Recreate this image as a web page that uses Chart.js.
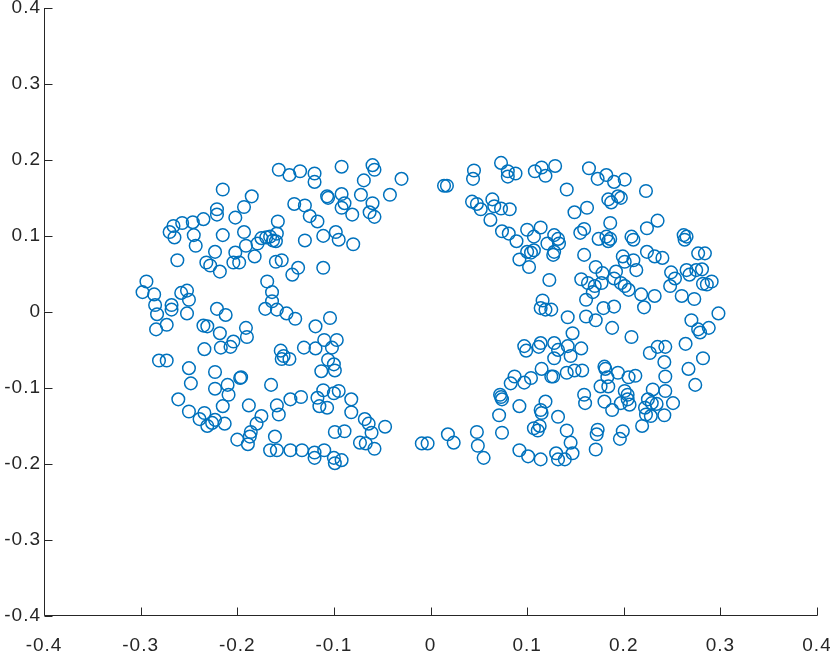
<!DOCTYPE html>
<html>
<head>
<meta charset="utf-8">
<script src="https://cdn.jsdelivr.net/npm/chart.js@4.4.1/dist/chart.umd.min.js"></script>
<style>
  html, body { margin: 0; padding: 0; background: #fff; }
  #wrap { width: 830px; height: 653px; }
</style>
</head>
<body>
<div id="wrap"><canvas id="c" width="830" height="653"></canvas></div>
<script>
// left half of the ring (x < 0)
const leftX = [
  -0.157,-0.215,-0.185,-0.193,-0.221,-0.221,-0.202,-0.235,-0.246,-0.257,
  -0.266,-0.270,-0.265,-0.245,-0.215,-0.193,-0.158,-0.243,-0.262,-0.223,
  -0.202,-0.191,-0.182,-0.179,-0.175,-0.170,-0.166,-0.163,-0.159,-0.160,
  -0.232,-0.228,-0.218,-0.204,-0.198,-0.160,-0.154,-0.294,-0.298,-0.286,
  -0.285,-0.268,-0.268,-0.258,-0.252,-0.250,-0.252,-0.221,-0.212,-0.169,
  -0.164,-0.164,-0.171,-0.159,-0.283,
  -0.146,-0.135,-0.120,-0.120,-0.092,-0.060,-0.058,-0.030,-0.069,-0.141,
  -0.130,-0.125,-0.117,-0.107,-0.106,-0.092,-0.089,-0.092,-0.081,-0.072,
  -0.060,-0.063,-0.058,-0.042,-0.130,-0.111,-0.098,-0.095,-0.080,-0.137,
  -0.143,-0.111,-0.149,-0.140,-0.104,
  -0.273,-0.284,-0.235,-0.231,-0.218,-0.191,-0.190,-0.204,-0.207,-0.217,
  -0.234,-0.281,-0.273,-0.250,-0.223,-0.196,-0.197,-0.248,-0.223,-0.210,
  -0.165,-0.261,-0.209,-0.215,-0.188,-0.159,-0.250,-0.239,-0.234,-0.231,
  -0.226,-0.223,-0.213,-0.175,-0.180,-0.186,-0.187,-0.200,-0.189,-0.161,
  -0.157,-0.166,-0.159,
  -0.155,-0.152,-0.154,-0.146,-0.119,-0.131,-0.119,-0.110,-0.097,-0.102,
  -0.106,-0.100,-0.099,-0.113,-0.145,-0.134,-0.117,-0.111,-0.100,-0.095,
  -0.115,-0.107,-0.082,-0.082,-0.068,-0.064,-0.061,-0.047,-0.099,-0.089,
  -0.073,-0.067,-0.058,-0.145,-0.133,-0.120,-0.120,-0.110,-0.100,-0.099,
  -0.092,-0.009,-0.003
];
const leftY = [
  0.187,0.161,0.152,0.138,0.135,0.128,0.124,0.122,0.118,0.117,
  0.113,0.105,0.098,0.101,0.101,0.105,0.119,0.087,0.068,0.079,
  0.078,0.087,0.073,0.090,0.097,0.098,0.099,0.094,0.103,0.093,
  0.065,0.061,0.053,0.065,0.065,0.066,0.068,0.040,0.026,0.023,
  0.009,0.009,0.003,0.025,0.028,0.016,-0.002,0.004,-0.004,0.040,
  0.026,0.014,0.004,0.003,-0.003,
  0.180,0.185,0.182,0.171,0.191,0.193,0.187,0.175,0.173,0.142,
  0.140,0.126,0.119,0.152,0.150,0.155,0.143,0.137,0.128,0.154,
  0.143,0.131,0.125,0.154,0.094,0.100,0.105,0.095,0.089,0.058,
  0.049,0.058,-0.002,-0.009,-0.008,
  -0.017,-0.023,-0.018,-0.019,-0.028,-0.021,-0.033,-0.039,-0.046,-0.047,
  -0.049,-0.064,-0.064,-0.074,-0.079,-0.086,-0.087,-0.094,-0.101,-0.096,
  -0.096,-0.115,-0.109,-0.124,-0.123,-0.123,-0.131,-0.141,-0.133,-0.150,
  -0.146,-0.142,-0.147,-0.137,-0.147,-0.158,-0.164,-0.168,-0.174,-0.164,
  -0.135,-0.182,-0.182,
  -0.051,-0.058,-0.062,-0.062,-0.019,-0.047,-0.048,-0.037,-0.037,-0.047,
  -0.063,-0.069,-0.077,-0.078,-0.115,-0.112,-0.113,-0.103,-0.107,-0.104,
  -0.124,-0.126,-0.115,-0.132,-0.141,-0.147,-0.159,-0.151,-0.158,-0.157,
  -0.172,-0.173,-0.180,-0.182,-0.182,-0.185,-0.192,-0.182,-0.192,-0.199,
  -0.195,-0.173,-0.173
];

// right half of the ring (x > 0)
const rightX = [
  0.014,0.017,0.045,0.044,0.073,0.080,0.088,0.080,0.108,0.115,
  0.119,0.129,0.141,0.043,0.048,0.052,0.064,0.066,0.073,0.082,
  0.062,0.149,0.074,0.081,0.089,0.100,0.107,0.114,0.121,0.128,
  0.132,0.133,0.128,0.127,0.100,0.104,0.107,0.092,0.102,0.123,
  0.116,0.114,0.119,0.125,0.142,
  0.164,0.173,0.182,0.190,0.201,0.223,0.184,0.187,0.194,0.197,
  0.162,0.186,0.159,0.155,0.174,0.182,0.184,0.186,0.208,0.210,
  0.224,0.235,0.262,0.265,0.263,0.159,0.199,0.210,0.201,0.224,
  0.232,0.240,0.277,0.284,0.213,0.171,0.178,0.192,0.190,0.156,
  0.163,0.170,0.177,0.168,0.161,0.197,0.201,0.205,0.218,0.232,
  0.249,0.253,0.248,0.265,0.268,0.275,0.281,0.282,0.286,0.291,
  0.260,0.273,0.179,0.190,0.221,0.298,0.161,0.270,
  0.171,0.188,0.208,0.277,0.279,0.288,0.264,0.282,0.267,0.274,
  0.227,0.235,0.243,0.242,0.243,0.156,0.157,0.180,0.181,0.183,
  0.184,0.194,0.205,0.212,0.176,0.159,0.160,0.180,0.188,0.201,
  0.204,0.204,0.197,0.206,0.230,0.243,0.251,0.225,0.229,0.234,
  0.222,0.223,0.228,0.242,0.219,0.173,0.172,0.199,0.196,0.171,
  0.147,0.097,0.099,0.112,0.114,0.128,0.132,0.128,0.142,0.145,
  0.087,0.083,0.097,0.104,0.115,0.125,0.127,0.141,0.149,0.072,
  0.073,0.074,0.092,0.119,0.114,0.115,0.071,0.132,0.107,0.113,
  0.111,0.141,0.074,0.048,0.018,0.024,0.049,0.055,0.092,0.101,
  0.114,0.130,0.132,0.139,0.145,0.147
];
const rightY = [
  0.166,0.166,0.186,0.175,0.196,0.185,0.182,0.178,0.185,0.190,
  0.179,0.192,0.161,0.145,0.142,0.135,0.148,0.139,0.136,0.135,
  0.121,0.131,0.106,0.103,0.093,0.108,0.099,0.111,0.090,0.101,
  0.096,0.090,0.079,0.075,0.079,0.078,0.081,0.069,0.059,0.042,
  0.015,0.005,0.003,0.003,-0.007,
  0.189,0.175,0.180,0.171,0.174,0.159,0.148,0.144,0.152,0.150,
  0.137,0.117,0.109,0.104,0.096,0.099,0.093,0.096,0.099,0.095,
  0.110,0.120,0.101,0.099,0.095,0.075,0.073,0.068,0.066,0.079,
  0.073,0.071,0.077,0.077,0.055,0.059,0.051,0.053,0.044,0.043,
  0.038,0.034,0.038,0.026,0.016,0.038,0.034,0.029,0.023,0.021,
  0.052,0.044,0.034,0.055,0.049,0.055,0.056,0.037,0.036,0.040,
  0.021,0.017,0.005,0.007,0.006,-0.002,-0.006,-0.011,
  -0.011,-0.021,-0.033,-0.023,-0.027,-0.021,-0.042,-0.061,-0.075,-0.096,
  -0.054,-0.046,-0.046,-0.066,-0.085,-0.048,-0.077,-0.072,-0.075,-0.086,
  -0.098,-0.080,-0.086,-0.084,-0.098,-0.109,-0.120,-0.118,-0.129,-0.104,
  -0.109,-0.115,-0.120,-0.122,-0.102,-0.104,-0.120,-0.115,-0.120,-0.121,
  -0.126,-0.135,-0.137,-0.136,-0.150,-0.155,-0.161,-0.157,-0.167,-0.181,
  -0.028,-0.045,-0.051,-0.046,-0.041,-0.041,-0.050,-0.061,-0.045,-0.058,
  -0.085,-0.094,-0.093,-0.087,-0.075,-0.085,-0.085,-0.080,-0.077,-0.109,
  -0.112,-0.115,-0.124,-0.118,-0.129,-0.133,-0.136,-0.138,-0.153,-0.150,
  -0.156,-0.156,-0.159,-0.158,-0.161,-0.172,-0.176,-0.192,-0.182,-0.190,
  -0.194,-0.186,-0.194,-0.194,-0.172,-0.186
];

const xTicks = [-0.4, -0.3, -0.2, -0.1, 0, 0.1, 0.2, 0.3, 0.4];
const yTicks = [-0.4, -0.3, -0.2, -0.1, 0, 0.1, 0.2, 0.3, 0.4];

const axisColor = '#262626';
const markColor = '#0072BD';
const fontFamily = '"Liberation Sans", Arial, Helvetica, sans-serif';

function toPoints(xs, ys) { return xs.map((x, i) => ({ x, y: ys[i] })); }

// original labels are a little wider than plain arial
const wideText = {
  id: 'wideText',
  beforeUpdate(chart) { chart.ctx.letterSpacing = '1px'; },
  beforeDraw(chart) { chart.ctx.letterSpacing = '1px'; }
};

// matlab style axes: left + bottom lines, ticks pointing inward
const matlabAxes = {
  id: 'matlabAxes',
  afterDraw(chart) {
    const ctx = chart.ctx;
    const { left, right, top, bottom } = chart.chartArea;
    const xs = chart.scales.x, ys = chart.scales.y;
    const L = Math.round(left) + 0.5, B = Math.round(bottom) - 0.5;
    ctx.save();
    ctx.strokeStyle = axisColor;
    ctx.lineWidth = 1;
    ctx.beginPath();
    ctx.moveTo(L, Math.round(top));
    ctx.lineTo(L, B);
    ctx.lineTo(Math.round(right) + 0.5, B);
    xTicks.forEach(v => {
      const px = Math.round(xs.getPixelForValue(v)) + 0.5;
      ctx.moveTo(px, B);
      ctx.lineTo(px, B - 8);
    });
    yTicks.forEach(v => {
      const py = Math.round(ys.getPixelForValue(v)) + 0.5;
      ctx.moveTo(L, py);
      ctx.lineTo(L + 8, py);
    });
    ctx.stroke();
    ctx.restore();
  }
};

new Chart(document.getElementById('c').getContext('2d'), {
  type: 'scatter',
  data: {
    datasets: [
      { label: 'left', data: toPoints(leftX, leftY) },
      { label: 'right', data: toPoints(rightX, rightY) }
    ]
  },
  options: {
    responsive: false,
    animation: false,
    events: [],
    layout: { padding: { top: 5, right: 13, left: 0, bottom: 0 } },
    elements: {
      point: {
        pointStyle: 'circle', radius: 6.3, borderWidth: 1.5,
        borderColor: markColor, backgroundColor: 'rgba(0,0,0,0)'
      }
    },
    plugins: { legend: { display: false }, tooltip: { enabled: false } },
    scales: {
      x: {
        type: 'linear', min: -0.4, max: 0.4,
        grid: { display: false, drawTicks: false },
        border: { display: false },
        ticks: {
          color: axisColor, padding: 18, maxRotation: 0, autoSkip: false,
          font: { family: fontFamily, size: 19 },
          callback: v => String(v)
        },
        afterBuildTicks: s => { s.ticks = xTicks.map(v => ({ value: v })); },
        afterFit: s => { s.height = 37; s.paddingLeft = 0; s.paddingRight = 0; }
      },
      y: {
        type: 'linear', min: -0.4, max: 0.4,
        grid: { display: false, drawTicks: false },
        border: { display: false },
        ticks: {
          color: axisColor, padding: 3, autoSkip: false,
          font: { family: fontFamily, size: 19 },
          callback: v => String(v)
        },
        afterBuildTicks: s => { s.ticks = yTicks.map(v => ({ value: v })); },
        afterFit: s => { s.width = 44; s.paddingTop = 0; s.paddingBottom = 0; }
      }
    }
  },
  plugins: [wideText, matlabAxes]
});
</script>
</body>
</html>
